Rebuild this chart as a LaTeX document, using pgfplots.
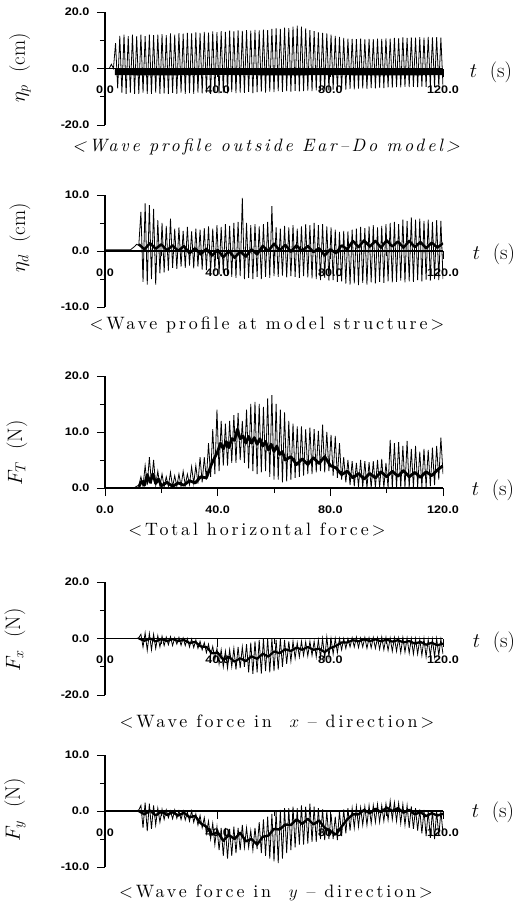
\documentclass[border=0pt]{standalone}
\usepackage{fontspec}
\usepackage{pgfplots}
\pgfplotsset{compat=1.18}
\newfontfamily\tickfont{Liberation Sans}[FakeStretch=1.15]
\newfontfamily\capserif{lmroman10-regular.otf}[ItalicFont=lmroman10-italic.otf, LetterSpace=16]
\newcommand\capfont{\capserif\fontsize{18}{21}\selectfont}
\newcommand\labfont{\fontsize{21}{24}\selectfont}
\pgfplotsset{
  panel/.style={
    scale only axis, width=338bp,
    xmin=0, xmax=120,
    axis x line*=middle, axis y line*=left,
    hide obscured x ticks=false, hide obscured y ticks=false,
    xtick={0,40,80,120}, xticklabels={0.0,40.0,80.0,120.0},
    minor xtick={20,60,100},
    tick label style={font=\tickfont\bfseries\fontsize{11}{12}\selectfont},
    x tick label style={yshift=-6bp},
    y tick label style={xshift=-4bp},
    tick align=outside, major tick length=8bp, minor tick length=5bp,
    axis line style={line width=1.2bp, black},
    every tick/.style={black, line width=1bp},
    anchor=south west,
  },
  spikes/.style={black, line width=0.8bp, no markers},
  mean/.style={black, line width=#1, no markers, line join=round},
}
\begin{document}
\begin{tikzpicture}
\path[use as bounding box] (0,0) rectangle (520bp,-906bp);

% ---------------- Panel 1 ----------------
\begin{axis}[panel, at={(105bp,-125bp)}, height=113bp,
  ymin=-20, ymax=20, ytick={-20,0,20}, yticklabels={-20.0,0.0,20.0}, minor ytick={-10,10}]
\addplot[mean=6.5bp] coordinates {(3.5,-1.2)(20,-1.3)(40,-1.1)(60,-1.3)(80,-1.2)(100,-1.3)(120,-1.2)};
\addplot[spikes] table[header=false, row sep=\\, x expr=\coordindex*0.75, y index=0] {
0\\0\\0\\1.5\\0\\
9\\-7\\11.5\\-8.5\\12\\-9\\11.5\\-8.5\\12\\-9\\
11.5\\-9\\12\\-8.5\\11.5\\-9\\12\\-9\\11.8\\-8.5\\
12\\-9\\12.2\\-8.8\\11.8\\-9\\12.4\\-8.6\\12\\-9\\
12.5\\-8.5\\12.3\\-9\\12.6\\-8.7\\12.4\\-9\\12.8\\-8.5\\
12.6\\-8.8\\13\\-8.5\\12.7\\-9\\13.1\\-8.6\\12.9\\-8.8\\
13.2\\-8.5\\13\\-8.8\\13.4\\-8.4\\13.1\\-8.7\\13.5\\-8.5\\
13.3\\-8.6\\13.6\\-8.3\\13.4\\-8.7\\13.7\\-8.4\\13.5\\-8.2\\
13.8\\-8.5\\13.6\\-8.2\\14\\-8.4\\14.2\\-8\\14\\-8.3\\
14.5\\-8\\14.3\\-8.2\\14.8\\-7.9\\15.2\\-8.1\\14.8\\-8\\
14.2\\-7.8\\13.6\\-8\\13.2\\-7.7\\12.8\\-7.9\\12.6\\-7.6\\
12.4\\-7.8\\12\\-7.5\\11.5\\-7.6\\11.2\\-7.4\\10.8\\-7.5\\
10.6\\-7.2\\10.5\\-7.4\\10.4\\-7.1\\10.6\\-7\\10.3\\-7.2\\
10.5\\-6.9\\10.4\\-7\\10.6\\-6.8\\10.5\\-6.9\\10.7\\-6.7\\
10.6\\-6.8\\10.8\\-6.6\\10.7\\-6.7\\11\\-6.5\\10.8\\-6.6\\
11\\-6.5\\10.9\\-6.6\\11.1\\-6.4\\10.9\\-6.5\\11.2\\-6.4\\
11\\-6.5\\11.1\\-6.4\\10.9\\-6.3\\
};
\end{axis}

% ---------------- Panel 2 ----------------
\begin{axis}[panel, at={(105bp,-307bp)}, height=112bp,
  ymin=-10, ymax=10, ytick={-10,0,10}, yticklabels={-10.0,0.0,10.0}, minor ytick={-5,5}]
\addplot[mean=2.5bp] coordinates {(12,1.2)(14,0.3)(16,1.4)(18,0.4)(20,1.2)(22,0.1)(24,1.0)(26,0)(28,0.9)(30,-0.4)(32,0.5)(34,-0.6)(36,0.4)(38,-0.8)(40,0.2)(42,-1.1)(44,0)(46,-1.2)(48,-0.1)(50,-1)(52,0.3)(54,-0.6)(56,0.9)(58,0)(60,1.3)(62,0.1)(64,1.1)(66,-0.1)(68,1.0)(70,0)(72,0.9)(74,-0.2)(76,0.5)(78,-0.8)(80,0.3)(82,-0.4)(84,1.0)(86,0.3)(88,1.8)(90,0.7)(92,1.9)(94,0.8)(96,1.8)(98,0.6)(100,1.9)(102,0.8)(104,1.7)(106,0.6)(108,1.8)(110,0.7)(112,1.6)(114,0.5)(116,1.5)(118,0.6)(120,1.4)};
\addplot[spikes] table[header=false, row sep=\\, x expr=\coordindex*0.75, y index=0] {
0.2\\0.2\\0.2\\0.2\\0.2\\0.2\\0.2\\0.2\\0.2\\0.2\\0.2\\0.2\\0.2\\0.5\\0.8\\1.2\\1\\
7\\-5.5\\8.5\\-6\\8.2\\-5\\7.5\\-6\\5.5\\-4\\
5\\-3.8\\4.5\\-3.5\\5.8\\-3\\4\\-3.2\\4.2\\-2.8\\
3.6\\-3\\4.3\\-2.6\\3.5\\-3.1\\4\\-2.8\\3.8\\-3.3\\
4.1\\-3.4\\4.4\\-3.8\\4\\-3.6\\4.6\\-4.2\\4.3\\-4\\
4.8\\-4.4\\4.5\\-4.6\\5\\-4.8\\5.2\\-4.5\\9.5\\-5\\
5\\-4.8\\4.6\\-5\\4.8\\-4.6\\4.4\\-5\\4.8\\-4.6\\
5.2\\-4.8\\8\\-4.5\\4.2\\-4.6\\4\\-4.4\\4.5\\-4.7\\
4.2\\-4.5\\4.6\\-4.6\\4\\-4.8\\4.4\\-4.5\\4.8\\-4.7\\
4.6\\-4.9\\5\\-5\\4.6\\-5.2\\4.8\\-4.8\\4.4\\-5.3\\
4.2\\-5.2\\3.8\\-5.5\\3.4\\-5.4\\3.6\\-5.8\\3.5\\-6\\
3.8\\-5.8\\4\\-6.1\\4.3\\-5.7\\4.1\\-6\\4.4\\-5.6\\
4.6\\-5.8\\4.2\\-5.5\\4.5\\-5.7\\4.8\\-5.4\\5\\-5.6\\
5.2\\-5.5\\4.8\\-5.3\\5.6\\-5.6\\5.4\\-5.4\\6\\-5.5\\
5.6\\-5.2\\5.8\\-5.4\\5.4\\-5.1\\5.6\\-5.3\\5.2\\-5\\
5.5\\-5.2\\5.4\\-5\\
};
\end{axis}

% ---------------- Panel 3 ----------------
\begin{axis}[panel, at={(105bp,-488bp)}, height=112bp,
  ymin=0, ymax=20, ytick={0,10,20}, yticklabels={0.0,10.0,20.0}, minor ytick={5,15}]
\addplot[mean=2.8bp] coordinates {(12,0.2)(13,1.2)(14,0.5)(15,2.4)(16,1.0)(17,2.5)(18,0.8)(19,1.6)(20,0.4)(22,1.0)(24,0.3)(26,0.9)(28,0.5)(30,1.3)(32,0.9)(34,2.0)(36,1.8)(38,4.5)(40,6.5)(41,8)(42,7)(43,8.3)(44,7.2)(45,8.8)(46,8.5)(47,10.5)(48,8.8)(49,9.3)(50,8)(51,9.2)(52,8)(53,9)(54,7.8)(55,8.8)(56,7.5)(57,8.3)(58,6.8)(59,7.8)(60,6.5)(61,7.5)(62,6)(63,6.5)(64,5)(66,5.6)(68,4.2)(70,5.2)(72,4.2)(74,5.4)(76,4.4)(78,5.6)(80,4)(82,3.6)(84,2.4)(86,3)(88,1.8)(90,2.6)(92,1.6)(94,2.6)(96,1.8)(98,2.9)(100,2)(102,3)(104,2.1)(106,3.1)(108,2)(110,2.8)(112,1.9)(114,2.9)(116,2.2)(118,3.2)(120,4)};
\addplot[spikes] table[header=false, row sep=\\, x expr=\coordindex*0.75, y index=0] {
0\\0\\0\\0\\0\\0\\0\\0\\0\\0\\0\\0\\0\\0\\0.1\\0.3\\0.5\\
2\\0.3\\4\\0.5\\5.5\\0.8\\5\\0.5\\3\\0.3\\
2.5\\0.2\\2\\0.3\\2.8\\0.2\\2.2\\0.3\\2.5\\0.3\\
3\\0.5\\2.5\\0.6\\3.8\\0.8\\4\\0.8\\5.5\\1\\
5.5\\1.5\\8\\2\\10.5\\2.5\\14\\3\\12\\4\\
11.5\\4\\12\\4.5\\13\\4.5\\13.4\\5\\12\\4.5\\
14\\3.5\\15\\3\\15.4\\2.5\\15\\2.8\\14.5\\3\\
16\\2\\16.6\\1.5\\15\\1.5\\14\\1\\13.5\\1.2\\
12\\1.5\\11.5\\1.8\\11\\2\\11\\2.2\\10.5\\2.5\\
10.8\\2.5\\10.5\\2.8\\10.2\\3\\11.3\\2.8\\10\\3\\
9.5\\2.2\\9.3\\1.8\\8\\1.5\\5.5\\1\\5\\0.5\\
4.8\\0.3\\4.5\\0.2\\5\\0.1\\4.8\\0\\4.6\\0\\
4.8\\0\\5\\0\\5.2\\0\\4.5\\0\\8.6\\0\\
8\\0\\8.2\\0\\7.5\\0\\8.4\\0\\7\\0\\
7.5\\0.2\\6.5\\0.2\\7\\0.2\\6.8\\0.3\\7.2\\0.5\\
7.5\\1.5\\9\\2.5\\
};
\end{axis}

% ---------------- Panel 4 ----------------
\begin{axis}[panel, at={(105bp,-695bp)}, height=113bp,
  ymin=-20, ymax=20, ytick={-20,0,20}, yticklabels={-20.0,0.0,20.0}, minor ytick={-10,10}]
\addplot[mean=2.2bp] coordinates {(12,0)(14,-0.8)(16,0)(18,-1)(20,-0.2)(22,-0.9)(24,-0.2)(26,-0.9)(28,-0.5)(30,-1.6)(32,-1.2)(34,-2.8)(36,-3)(38,-5.2)(40,-5)(42,-7.5)(44,-6.5)(46,-8.2)(48,-7)(50,-8)(52,-6.3)(54,-7.2)(56,-5.4)(58,-6.4)(60,-4.6)(62,-5.2)(64,-3.8)(66,-4.4)(68,-3.2)(70,-4)(72,-3)(74,-4)(76,-3.6)(78,-4.8)(80,-3.4)(82,-2.6)(84,-1.4)(86,-1.4)(88,-0.6)(90,-1)(92,-0.3)(94,-0.9)(96,-0.3)(98,-1)(100,-0.4)(102,-1.1)(104,-0.6)(106,-1.4)(108,-0.9)(110,-1.8)(112,-1.2)(114,-2.2)(116,-1.5)(118,-2.4)(120,-1.8)};
\addplot[spikes] table[header=false, row sep=\\, x expr=\coordindex*0.75, y index=0] {
0\\0\\0\\0\\0\\0\\0\\0\\0\\0\\0\\0\\0\\0\\0\\0\\0.3\\
1.5\\-3\\2\\-4.2\\1.8\\-4\\1.5\\-3.5\\1\\-3\\
0.8\\-2.5\\0.5\\-2.2\\0.6\\-2.5\\0.3\\-2\\0.4\\-2.4\\
0.2\\-2.5\\0\\-3\\-0.2\\-3.2\\-0.5\\-3.5\\-1\\-4\\
-1.5\\-5\\-2\\-6\\-2.8\\-7.5\\-3.5\\-9\\-4\\-10\\
-4.5\\-10.5\\-4\\-10\\-3.5\\-11\\-3\\-10.5\\-3\\-10\\
-2\\-12\\-1.5\\-12.5\\-1\\-12\\-0.5\\-12.4\\0\\-11.5\\
0\\-12\\0\\-11.5\\-0.5\\-11\\0\\-10\\-0.5\\-9\\
-1\\-8\\-1\\-7\\-1.5\\-6.5\\-1\\-6\\-1.2\\-6.2\\
-1\\-6\\-1\\-6.5\\-0.5\\-6.8\\0\\-7\\0.5\\-6.5\\
0\\-5.5\\0\\-5\\0\\-4\\0\\-3.5\\0\\-3\\
0.3\\-3\\0.5\\-3.2\\0.2\\-3\\0.4\\-3.5\\0.3\\-3.3\\
0.4\\-3.5\\0.3\\-3.8\\0.5\\-4\\0.4\\-4.2\\0.2\\-4.5\\
0.3\\-4.5\\0.2\\-5\\0.4\\-4.8\\0.2\\-5.2\\0\\-5.5\\
0\\-5.5\\-0.2\\-6\\0\\-6.5\\-0.3\\-6.2\\-0.2\\-6.5\\
0\\-6\\-0.2\\-5.5\\
};
\end{axis}

% ---------------- Panel 5 ----------------
\begin{axis}[panel, at={(105bp,-867bp)}, height=112bp,
  ymin=-10, ymax=10, ytick={-10,0,10}, yticklabels={-10.0,0.0,10.0}, minor ytick={-5,5}]
\addplot[mean=2.4bp] coordinates {(12,0)(14,-0.6)(16,0.1)(18,-0.8)(20,-0.1)(22,-0.7)(24,-0.2)(26,-0.8)(28,-0.3)(30,-1.1)(32,-0.9)(34,-2.2)(36,-2.8)(38,-4.2)(40,-3.8)(42,-5.3)(44,-4.3)(46,-5)(48,-3.9)(50,-5.4)(52,-5)(54,-6)(56,-4.6)(58,-4.4)(60,-3.2)(62,-3.3)(64,-2.4)(66,-2.5)(68,-1.5)(70,-2.3)(72,-1.4)(74,-2.4)(76,-1.7)(78,-3)(80,-3.6)(82,-4.2)(84,-2.8)(86,-1.5)(88,-0.6)(90,-0.6)(92,0.2)(94,-0.4)(96,0.4)(98,-0.2)(100,0.6)(102,0)(104,0.5)(106,-0.3)(108,0.2)(110,-0.6)(112,-0.2)(114,-0.9)(116,-0.4)(118,-0.8)(120,-0.5)};
\addplot[spikes] table[header=false, row sep=\\, x expr=\coordindex*0.75, y index=0] {
0\\0\\0\\0\\0\\0\\0\\0\\0\\0\\0\\0\\0\\0\\0\\0\\0.2\\
1\\-3\\1.5\\-3.6\\1.3\\-3.2\\1\\-2.5\\0.5\\-2\\
0.3\\-1.5\\0.2\\-1.2\\0\\-1.4\\0.2\\-1.3\\0\\-1.5\\
0\\-1.6\\-0.2\\-1.8\\0\\-2\\-0.5\\-2.5\\-0.8\\-3\\
-1.2\\-4\\-1.8\\-5\\-2.2\\-6\\-2.8\\-7\\-3\\-8\\
-3\\-8.5\\-3.2\\-8\\-2.8\\-7.5\\-3\\-7\\-2.5\\-6.5\\
-3\\-6.5\\-3.5\\-7\\-3\\-6.8\\-2\\-7.5\\-1.5\\-8\\
-1\\-8.5\\-0.5\\-9\\0\\-9.3\\0.2\\-8.5\\0.5\\-7.5\\
0.5\\-7\\0.8\\-6.5\\0.5\\-6\\1\\-6\\0.8\\-5.8\\
1.3\\-5.5\\0.8\\-5.5\\0.5\\-5\\0.3\\-5.2\\0\\-5\\
-0.5\\-5\\-1\\-5.2\\0\\-4.5\\0.3\\-4\\0.5\\-3.5\\
0.5\\-3\\0.8\\-2.8\\0.6\\-2.5\\0.8\\-2.5\\1\\-2.2\\
1\\-2\\1.2\\-2\\1\\-1.8\\1.3\\-1.6\\1.8\\-1.5\\
1.5\\-1.8\\1.4\\-2.2\\1.2\\-2.5\\1\\-3\\0.8\\-3.2\\
0.5\\-3.5\\0.3\\-4\\0.2\\-4.5\\0\\-4.8\\0\\-5\\
0\\-4.5\\0\\-4\\
};
\end{axis}

% ---------------- labels ----------------
\node[rotate=90, font=\labfont] at (20bp,-68bp) {$\eta_p$\ \ (cm)};
\node[rotate=90, font=\labfont] at (20bp,-238bp) {$\eta_d$\ \ (cm)};
\node[rotate=90, font=\labfont] at (17bp,-453bp) {$F_T$\ \ (N)};
\node[rotate=90, font=\labfont] at (15bp,-640bp) {$F_x$\ \ (N)};
\node[rotate=90, font=\labfont] at (15bp,-810bp) {$F_y$\ \ (N)};

\node[font=\labfont] at (491bp,-72bp) {$t$\ \ (s)};
\node[font=\labfont] at (494bp,-254bp) {$t$\ \ (s)};
\node[font=\labfont] at (493bp,-490bp) {$t$\ \ (s)};
\node[font=\labfont] at (494bp,-642bp) {$t$\ \ (s)};
\node[font=\labfont] at (493bp,-812bp) {$t$\ \ (s)};

\node[font=\capfont\itshape] at (266bp,-147bp) {<Wave profile outside Ear–Do model>};
\node[font=\capfont] at (267bp,-325bp) {<Wave profile at model structure>};
\node[font=\capfont] at (257bp,-530bp) {<Total horizontal force>};
\node[font=\capfont] at (277bp,-722bp) {<Wave force in \ $x$ – direction>};
\node[font=\capfont] at (276bp,-893bp) {<Wave force in \ $y$ – direction>};
\end{tikzpicture}
\end{document}
